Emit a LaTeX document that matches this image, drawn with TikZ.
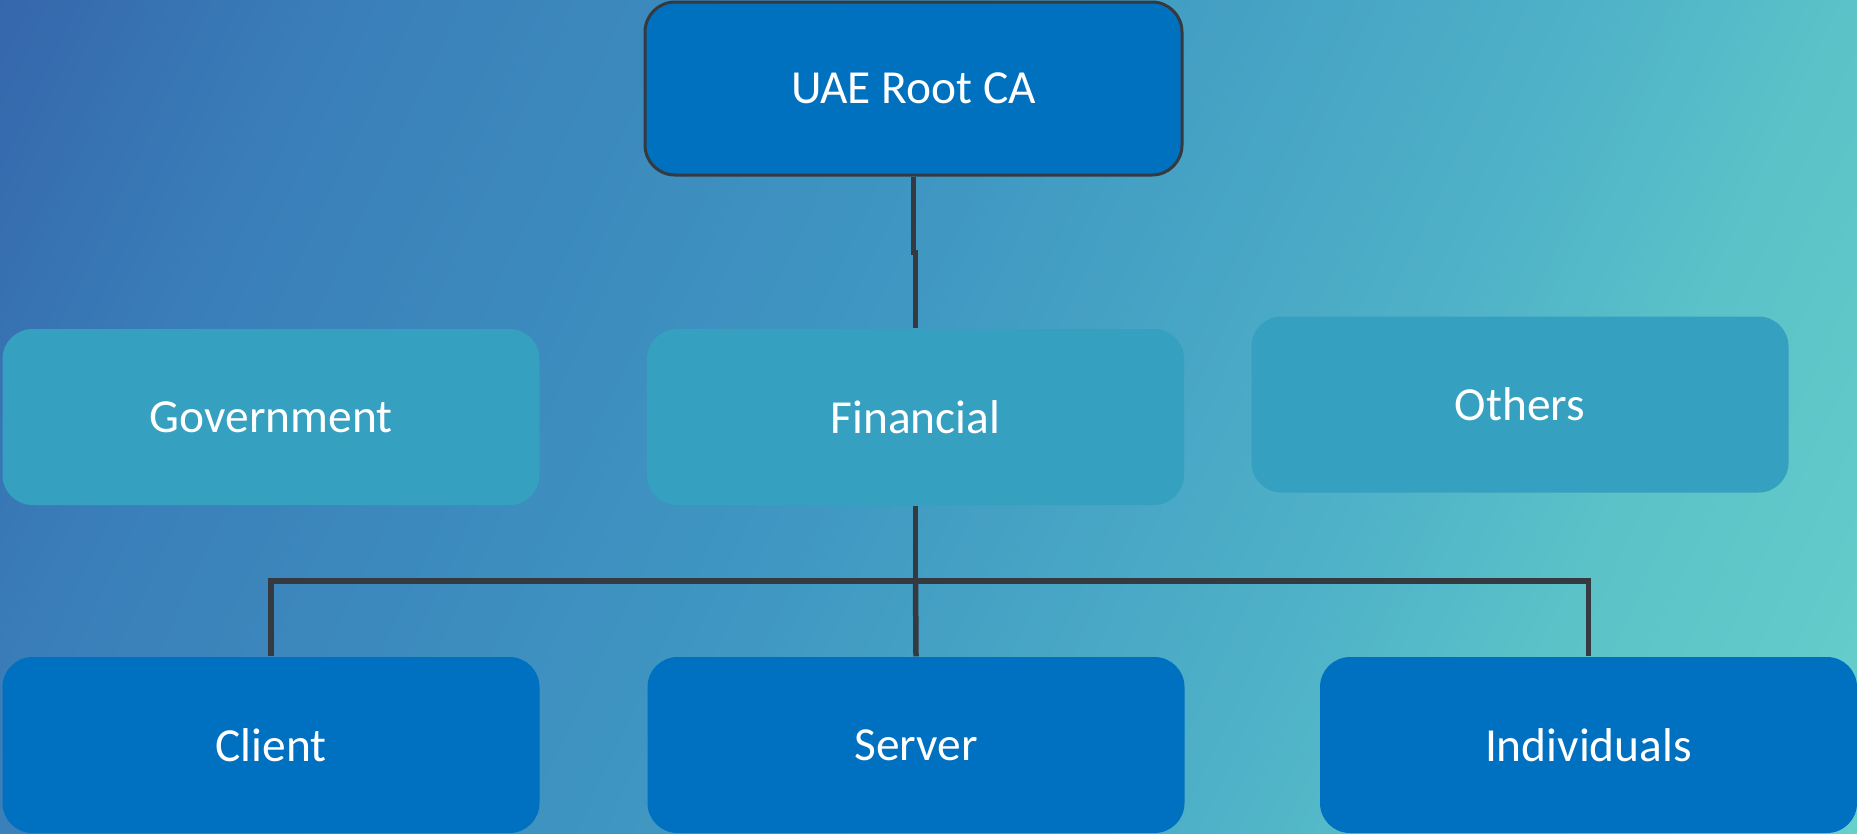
\documentclass[tikz,border=0pt]{standalone}
\usepackage{fontspec}
\setmainfont{Carlito}
\usepackage{tikz}
\definecolor{hexcolor0x3567ac}{rgb}{0.208,0.404,0.675}
\definecolor{hexcolor0x3a7eb9}{rgb}{0.227,0.494,0.725}
\definecolor{hexcolor0x3f97c2}{rgb}{0.247,0.592,0.761}
\definecolor{hexcolor0x50b3c8}{rgb}{0.314,0.702,0.784}
\definecolor{hexcolor0x5bc3c8}{rgb}{0.357,0.765,0.784}
\definecolor{hexcolor0x62cac9}{rgb}{0.384,0.792,0.788}
\definecolor{hexcolor0x68d0cb}{rgb}{0.408,0.816,0.796}
\definecolor{hexcolor0x0071bf}{rgb}{0.000,0.443,0.749}
\definecolor{hexcolor0x0070c0}{rgb}{0.000,0.439,0.753}
\definecolor{hexcolor0x35a0c0}{rgb}{0.208,0.627,0.753}
\definecolor{hexcolor0x343a40}{rgb}{0.204,0.227,0.251}
\definecolor{mywhite}{rgb}{1.000,1.000,1.000}
\pgfdeclarehorizontalshading{bgshade}{100bp}{color(0bp)=(hexcolor0x3567ac); color(25bp)=(hexcolor0x3567ac); color(32.5bp)=(hexcolor0x3a7eb9); color(48bp)=(hexcolor0x3f97c2); color(61bp)=(hexcolor0x50b3c8); color(66.5bp)=(hexcolor0x5bc3c8); color(72bp)=(hexcolor0x62cac9); color(75bp)=(hexcolor0x68d0cb); color(100bp)=(hexcolor0x68d0cb)}
\tikzstyle{box}=[rectangle,rounded corners=3mm,text=mywhite,minimum width=5.37cm,minimum height=1.76cm,font=\fontsize{13.5}{16}\selectfont]
\tikzstyle{rootbox}=[box,fill=hexcolor0x0071bf,draw=hexcolor0x343a40,line width=0.3mm,minimum height=1.73cm]
\tikzstyle{sectorbox}=[box,fill=hexcolor0x35a0c0]
\tikzstyle{leafbox}=[box,fill=hexcolor0x0070c0]
\tikzstyle{link}=[line width=0.55mm,draw=hexcolor0x343a40]
\begin{document}
\begin{tikzpicture}
	\useasboundingbox (0,0) rectangle (18.57,-8.33);
	\begin{scope}
		\clip (0,0) rectangle (18.57,-8.33);
		\shade [shading=bgshade,transform canvas={rotate around={-25:(9.285,-4.165)}}] (-0.9,3.54) rectangle (19.47,-11.87);
	\end{scope}
	%nodes
		\node [style=rootbox] (root) at (9.135,-0.885) {UAE Root CA};
		\node [style=sectorbox] (gov) at (2.71,-4.17) {Government};
		\node [style=sectorbox] (fin) at (9.155,-4.17) {Financial};
		\node [style=sectorbox] (oth) at (15.20,-4.045) {Others};
		\node [style=leafbox] (cli) at (2.71,-7.45) {Client};
		\node [style=leafbox] (srv) at (9.16,-7.45) {Server};
		\node [style=leafbox] (ind) at (15.885,-7.45) {Individuals};
	%edges
		\coordinate (bus) at (9.155,-5.81);
		\draw [style=link] (root.south) -- ++(0,-0.76) -| (fin.north);
		\draw [style=link] (fin.south) -- (bus);
		\draw [style=link] (cli.north) |- (bus) -| (ind.north);
		\draw [style=link] (bus) -- (srv.north);
\end{tikzpicture}
\end{document}
